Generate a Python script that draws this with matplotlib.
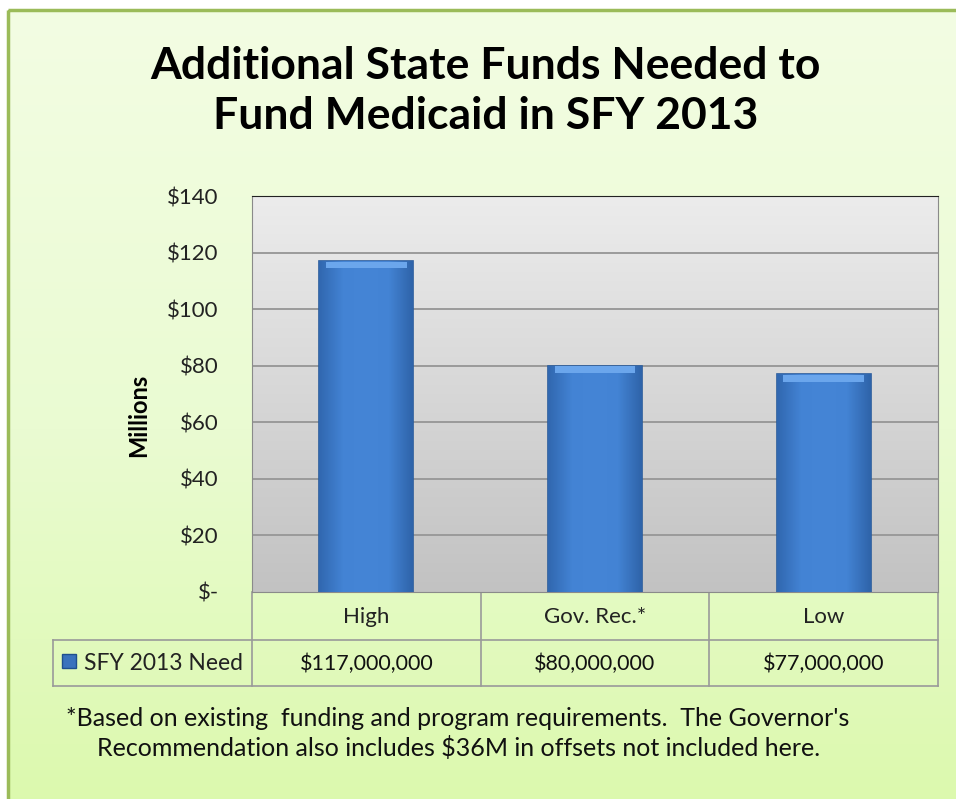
import numpy as np
import matplotlib.pyplot as plt
from matplotlib.patches import Rectangle
from matplotlib.colors import LinearSegmentedColormap

plt.rcParams['font.family'] = ['Lato', 'DejaVu Sans']

# data
categories = ['High', 'Gov. Rec.*', 'Low']
need_millions = [117, 80, 77]
series_name = 'SFY 2013 Need'
y_ticks = [0, 20, 40, 60, 80, 100, 120, 140]
y_tick_labels = ['$-', '$20', '$40', '$60', '$80', '$100', '$120', '$140']
title = 'Additional State Funds Needed to\nFund Medicaid in SFY 2013'
footnote_1 = "*Based on existing  funding and program requirements.  The Governor's"
footnote_2 = "Recommendation also includes $36M in offsets not included here."

W, H = 956, 799
fig = plt.figure(figsize=(W / 100, H / 100), dpi=100)

def fx(px):
    return px / W

def fy(py):
    return 1 - py / H

# page background: white with a green framed gradient panel
bg = fig.add_axes([0, 0, 1, 1], zorder=-10)
bg.set_xlim(0, W)
bg.set_ylim(H, 0)
bg.axis('off')
green = LinearSegmentedColormap.from_list('g', ['#f3fde3', '#eafbd2', '#daf9a9'])
grad = np.linspace(0, 1, 256).reshape(-1, 1)
bg.imshow(grad, cmap=green, extent=[8, W + 50, H + 50, 10], aspect='auto', zorder=0)
bg.add_patch(Rectangle((8, 10), W + 100, H + 100, fill=False, edgecolor='#9bbb59',
                       linewidth=2.5, zorder=1))

fig.text(0.508, fy(91), title, ha='center', va='center', fontsize=32,
         fontweight='bold', linespacing=1.3, color='black')

# plot area
x0, x1, y0, y1 = 252, 938, 196, 592
ax = fig.add_axes([fx(x0), fy(y1), fx(x1 - x0), fy(y0) - fy(y1)])
gray = LinearSegmentedColormap.from_list('gr', ['#ececec', '#c2c2c2'])
x = np.arange(len(categories))
ax.imshow(grad, cmap=gray, extent=[-0.5, len(categories) - 0.5, 0, 140],
          aspect='auto', zorder=0)
ax.set_xlim(-0.5, len(categories) - 0.5)
ax.set_ylim(0, 140)
for t in y_ticks[1:-1]:
    ax.axhline(t, color='#9a9a9a', linewidth=1.4, zorder=1)

bars = ax.bar(x, need_millions, width=0.41, color='#4282d3',
              edgecolor='#2a5c9c', linewidth=1.2, zorder=3)
blue = LinearSegmentedColormap.from_list(
    'b', ['#3168b0', '#4383d4', '#4585d6', '#4383d4', '#2f64aa'])
for b in bars:
    im = ax.imshow(np.linspace(0, 1, 64).reshape(1, -1), cmap=blue,
                   extent=[b.get_x(), b.get_x() + b.get_width(), 0, b.get_height()],
                   aspect='auto', zorder=4)
    im.set_clip_path(b)
    ax.bar(b.get_x() + b.get_width() / 2, 2.4, bottom=b.get_height() - 2.6,
           width=b.get_width() * 0.86, color='#6ba6ec', linewidth=0, zorder=5)

ax.set_yticks(y_ticks)
ax.set_yticklabels(y_tick_labels, fontsize=16, color='#222222')
ax.tick_params(axis='y', length=0, pad=24)
ax.set_xticks([])
for s in ['left', 'bottom', 'right']:
    ax.spines[s].set_color('#8a8a8a')
ax.spines['top'].set_color('#222222')
ax.set_ylabel('Millions', fontsize=17, fontweight='bold')
ax.yaxis.set_label_coords(-0.148, 0.447)

# data table under the plot
line = dict(color='#9a9a9a', linewidth=1.2)
r0, r1, r2 = 592, 640, 686
tleft = 53
colx = [x0 + (x1 - x0) * i / len(categories) for i in range(len(categories) + 1)]
for cx in colx:
    bg.plot([cx, cx], [r0, r2], **line)
bg.plot([tleft, tleft], [r1, r2], **line)
bg.plot([tleft, x1], [r1, r1], **line)
bg.plot([tleft, x1], [r2, r2], **line)
for i, (cat, v) in enumerate(zip(categories, need_millions)):
    cx = (colx[i] + colx[i + 1]) / 2
    bg.text(cx, (r0 + r1) / 2 + 1, cat, ha='center', va='center', fontsize=16,
            color='#222222')
    bg.text(cx, (r1 + r2) / 2 + 1, f'${v * 1_000_000:,.0f}', ha='center',
            va='center', fontsize=15.5, color='#111111')
bg.add_patch(Rectangle((62, 654), 14, 14, facecolor='#3a72bd',
                       edgecolor='#1f4f8f', linewidth=1))
bg.text(84, (r1 + r2) / 2 + 1, series_name, ha='left', va='center',
        fontsize=16.5, color='#222222')

bg.text(66, 718, footnote_1, ha='left', va='center', fontsize=18, color='#111111')
bg.text(97, 748, footnote_2, ha='left', va='center', fontsize=18, color='#111111')

fig.savefig('out.png', dpi=100)
